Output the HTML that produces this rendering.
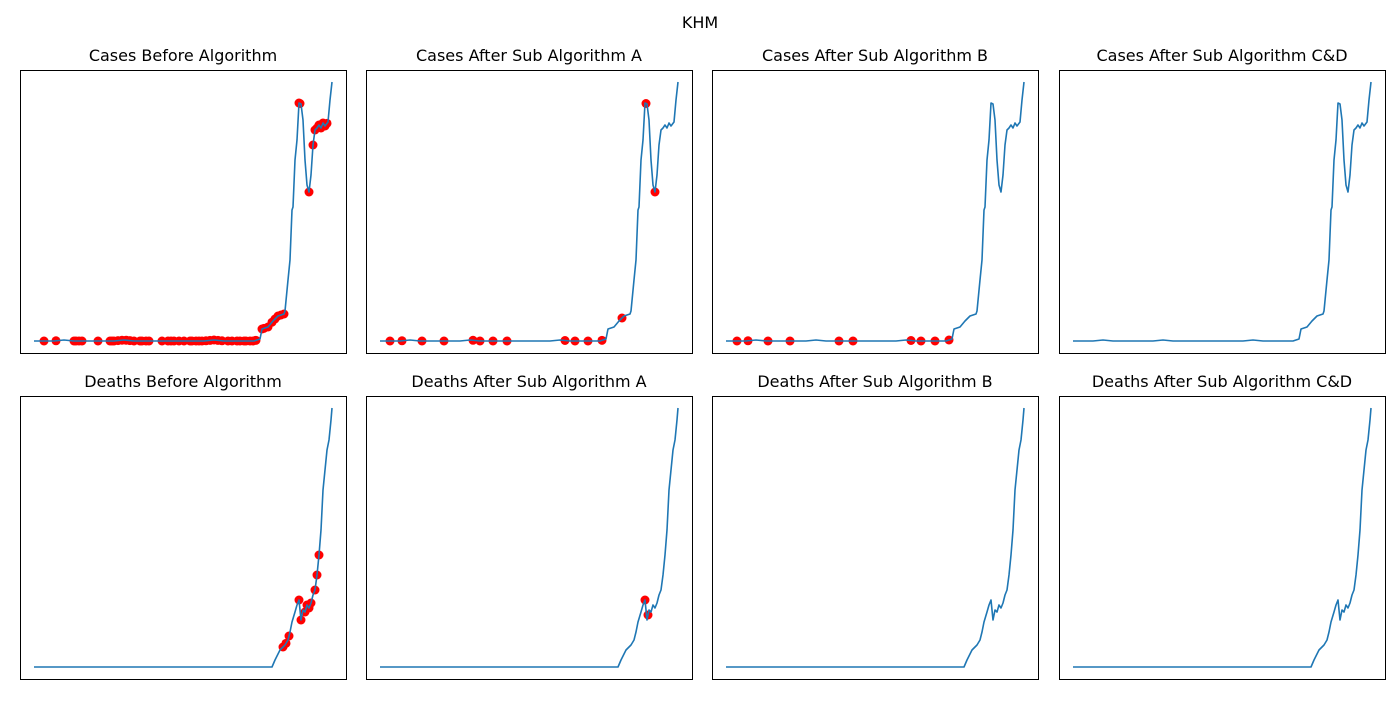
<!DOCTYPE html>
<html><head><meta charset="utf-8"><style>
body{margin:0;background:#fff;font-family:"DejaVu Sans","Liberation Sans",sans-serif}
</style></head><body>
<svg id="c" width="1400" height="700" xmlns="http://www.w3.org/2000/svg" font-family="DejaVu Sans, Liberation Sans, sans-serif">
<text x="700" y="28" text-anchor="middle" font-size="16" fill="#000">KHM</text>
</svg>
<script>
const caseDays=[0,10,20,30,40,50,60,70,80,90,100,110,120,130,140,150,160,170,180,190,200,210,220,226,228,234,239,244,250,251,254,256,258,259,261,263,265,267,269,271,273,275,277,279,281,283,285,287,289,291,294,296,298];
const caseVals=[0,0,0,1,0,0,0,0,0,1,0,0,0,0,0,0,0,0,1,0,0,0,0,2,12,14,20,25,27,30,61,81,131,134,181,201,238,237,221,181,156,149,166,196,211,213,216,213,218,215,219,241,259];
const deathDays=[0,50,100,150,200,238,241,246,251,254,256,258,261,263,265,267,269,271,273,275,277,279,281,283,285,287,289,291,293,295,297,298];
const deathVals=[0,0,0,0,0,0,7,17,22,27,35,45,55,62,67,47,57,55,62,59,64,72,77,92,112,137,177,197,217,227,247,259];
const caseOutBefore=[10,22,40,42,45,48,64,76,78,80,84,88,92,96,100,106,108,112,115,128,134,137,140,145,150,156,158,162,165,168,172,176,180,184,188,194,198,203,206,210,212,216,219,222,228,230,234,238,241,244,247,250,265,266,275,279,281,283,285,287,289,291,293];
const caseOutA=[10,22,42,64,93,100,113,127,185,195,208,222,242,266,275];
const caseOutB=[11,22,42,64,113,127,185,195,209,223];
const deathOutBefore=[249,252,255,265,267,271,273,275,277,281,283,285];
const deathOutA=[265,268];
const panelX=[20,366,712,1059], panelY=[70,396], PW=326, PH=283;
const NS="http://www.w3.org/2000/svg", svg=document.getElementById('c');
function interp(ds,vs,d){for(let i=1;i<ds.length;i++){if(d<=ds[i]){const t=(d-ds[i-1])/(ds[i]-ds[i-1]);return vs[i-1]+t*(vs[i]-vs[i-1]);}}return vs[vs.length-1];}
function mk(tag,attrs){const e=document.createElementNS(NS,tag);for(const k in attrs)e.setAttribute(k,attrs[k]);svg.appendChild(e);return e;}
const panels=[
 ["Cases Before Algorithm",caseDays,caseVals,caseOutBefore],
 ["Cases After Sub Algorithm A",caseDays,caseVals,caseOutA],
 ["Cases After Sub Algorithm B",caseDays,caseVals,caseOutB],
 ["Cases After Sub Algorithm C&D",caseDays,caseVals,[]],
 ["Deaths Before Algorithm",deathDays,deathVals,deathOutBefore],
 ["Deaths After Sub Algorithm A",deathDays,deathVals,deathOutA],
 ["Deaths After Sub Algorithm B",deathDays,deathVals,[]],
 ["Deaths After Sub Algorithm C&D",deathDays,deathVals,[]]];
panels.forEach((p,i)=>{
 const L=panelX[i%4],T=panelY[Math.floor(i/4)];
 const maxD=Math.max(...p[1]),maxV=Math.max(...p[2]);
 const xs=d=>L+14+d/maxD*(PW-28);
 const ys=v=>T+PH-12-v/maxV*(PH-24);
 const r=mk('rect',{x:L+0.5,y:T+0.5,width:PW,height:PH,fill:'none',stroke:'#000','stroke-width':1});
 
 
 const t=mk('text',{x:L+PW/2,y:T-9,'text-anchor':'middle','font-size':16,fill:'#000'});
 t.textContent=p[0];
 
 
 const pts=p[1].map((d,j)=>xs(d).toFixed(1)+','+ys(p[2][j]).toFixed(1)).join(' ');
 const pl=mk('polyline',{points:pts,fill:'none',stroke:'#1f77b4','stroke-width':1.6,'stroke-linejoin':'round'});
 
 
 p[3].forEach(d=>{
  const c=mk('circle',{cx:xs(d),cy:ys(interp(p[1],p[2],d)),r:4.5,fill:'#ff0000'});
  
  
 });
 svg.appendChild(pl);
});
</script>
</body></html>
